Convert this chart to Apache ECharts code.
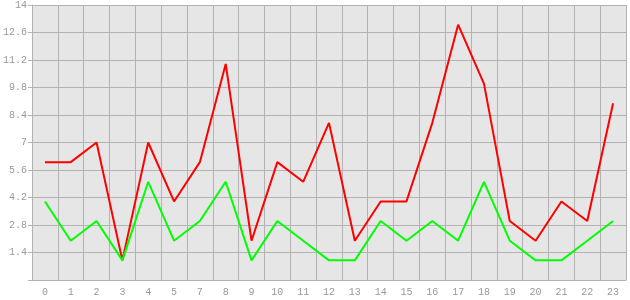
<!DOCTYPE html>
<html><head><meta charset="utf-8">
<script src="https://cdn.jsdelivr.net/npm/echarts@6/dist/echarts.min.js"></script>
<style>html,body{margin:0;padding:0;background:#fff}#c{width:630px;height:300px}</style>
</head><body><div id="c"></div>
<script>
const categories = ['0','1','2','3','4','5','7','8','9','10','11','12','13','14','15','16','17','18','19','20','21','22','23'];
const redValues = [6,6,7,1,7,4,6,11,2,6,5,8,2,4,4,8,13,10,3,2,4,3,9];
const greenValues = [4,2,3,1,5,2,3,5,1,3,2,1,1,3,2,3,2,5,2,1,1,2,3];
const yMin = 0, yMax = 14, yStep = 1.4;

const chart = echarts.init(document.getElementById('c'), null, {renderer:'canvas'});
const font = {fontFamily:'Liberation Mono', fontSize:10, color:'#999999'};
chart.setOption({
  animation:false,
  backgroundColor:'#ffffff',
  grid:{left:32,right:4,top:5,bottom:20,show:true,backgroundColor:'#e6e6e6',borderWidth:0},
  xAxis:{type:'category',data:categories,boundaryGap:true,
    axisLine:{lineStyle:{color:'#b3b3b3',width:1}},
    axisTick:{alignWithLabel:true,length:4,lineStyle:{color:'#b3b3b3'}},
    axisLabel:Object.assign({margin:7,interval:0},font),
    splitLine:{show:true,lineStyle:{color:'#b3b3b3',width:1}}},
  yAxis:{type:'value',min:yMin,max:yMax,interval:yStep,
    axisLine:{show:true,lineStyle:{color:'#b3b3b3',width:1}},
    axisTick:{show:true,length:4,lineStyle:{color:'#b3b3b3'}},
    axisLabel:Object.assign({margin:5,formatter:v=>v===0?'':String(+v.toFixed(1))},font),
    splitLine:{show:true,lineStyle:{color:'#b3b3b3',width:1}}},
  series:[
    {type:'line',data:redValues,showSymbol:false,lineStyle:{color:'#ff0000',width:2},itemStyle:{color:'#ff0000'}},
    {type:'line',data:greenValues,showSymbol:false,lineStyle:{color:'#00ff00',width:2},itemStyle:{color:'#00ff00'}}
  ]
});
</script></body></html>
